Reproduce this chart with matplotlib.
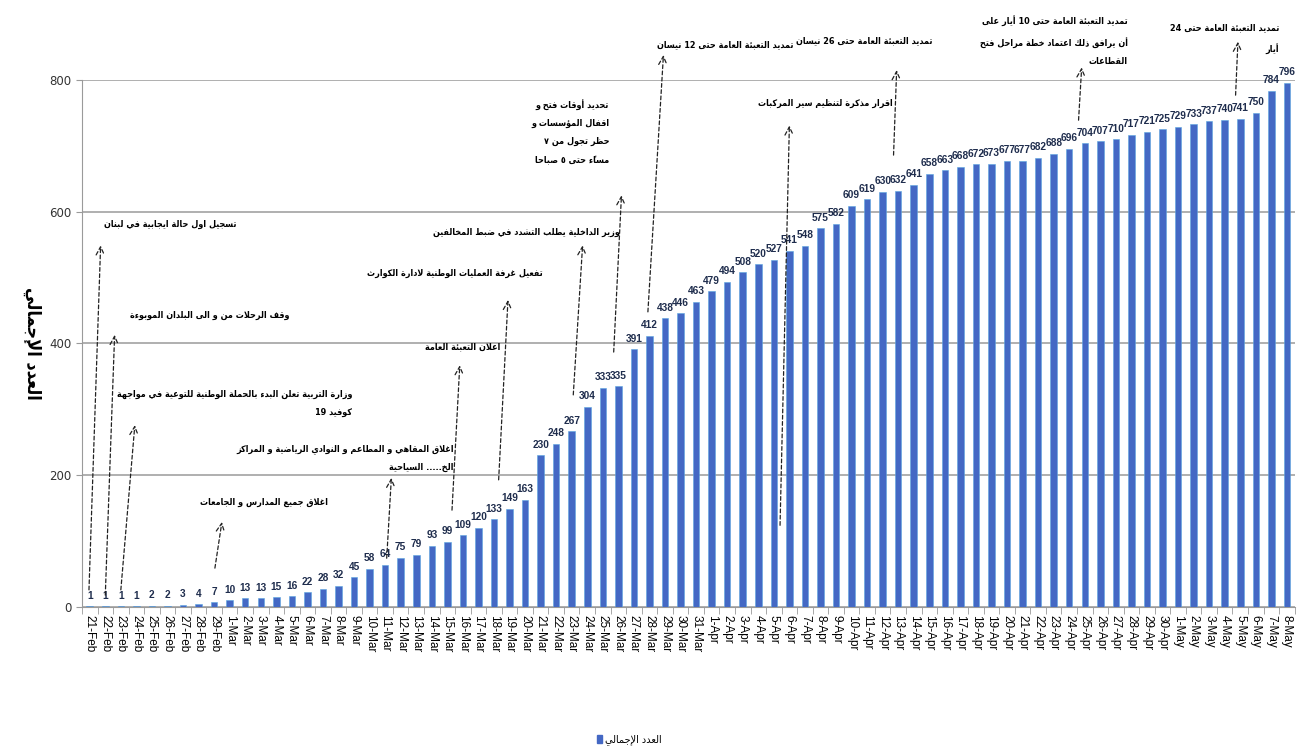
import unicodedata
import pandas as pd
import matplotlib
matplotlib.use("Agg")
import matplotlib.pyplot as plt
from matplotlib.patches import Patch

# Data
dates = [f"{d.day}-{d.strftime('%b')}" for d in pd.date_range("2020-02-21", "2020-05-08")]
totals = [1, 1, 1, 1, 2, 2, 3, 4, 7,
          10, 13, 13, 15, 16, 22, 28, 32, 45, 58, 64, 75, 79, 93, 99, 109, 120, 133, 149, 163,
          230, 248, 267, 304, 333, 335, 391, 412, 438, 446, 463,
          479, 494, 508, 520, 527, 541, 548, 575, 582, 609, 619, 630, 632, 641, 658, 663, 668,
          672, 673, 677, 677, 682, 688, 696, 704, 707, 710, 717, 721, 725,
          729, 733, 737, 740, 741, 750, 784, 796]
series_name = "العدد الإجمالي"

events = [
    "تسجيل اول حالة ايجابية في لبنان",
    "وقف الرحلات من و الى البلدان الموبوءة",
    "وزارة التربية تعلن البدء بالحملة الوطنية للتوعية في مواجهة\nكوفيد 19",
    "اغلاق جميع المدارس و الجامعات",
    "اغلاق المقاهي و المطاعم و النوادي الرياضية و المراكز\nالخ..... السياحية",
    "اعلان التعبئة العامة",
    "تفعيل غرفة العمليات الوطنية لادارة الكوارث",
    "وزير الداخلية يطلب التشدد في ضبط المخالفين",
    "تحديد أوقات فتح و\nاقفال المؤسسات و\nحظر تجول من ٧\nمساءً حتى ٥ صباحا",
    "تمديد التعبئة العامة حتى 12 نيسان",
    "اقرار مذكرة لتنظيم سير المركبات",
    "تمديد التعبئة العامة حتى 26 نيسان",
    "تمديد التعبئة العامة حتى 10 أيار على\nأن يرافق ذلك اعتماد خطة مراحل فتح\nالقطاعات",
    "تمديد التعبئة العامة حتى 24\nأيار",
]

# layout of the callouts: text (x, y), arrow tail (x, y), arrow head (x, y) in data units
callouts = [
    ((5.2, 580), (-0.05, 26), (0.7, 549)),
    ((7.7, 443), (1.0, 18), (1.6, 413)),
    ((9.3, 309), (2.0, 26), (2.9, 276)),
    ((11.2, 158), (8.05, 59), (8.5, 129)),
    ((16.4, 226), (19.1, 74), (19.4, 196)),
    ((24.0, 395), (23.3, 147), (23.8, 367)),
    ((23.5, 507), (26.3, 193), (26.9, 466)),
    ((28.1, 569), (31.1, 322), (31.7, 549)),
    ((30.9, 721), (33.7, 387), (34.2, 625)),
    ((40.9, 853), (35.9, 448), (36.9, 838)),
    ((47.3, 765), (44.4, 124), (45.0, 731)),
    ((49.8, 860), (51.7, 686), (51.9, 815)),
    ((62.0, 860), (63.6, 739), (63.8, 819)),
    ((73.0, 863), (73.7, 777), (73.85, 858)),
]

# --- minimal Arabic shaping + right-to-left ordering (matplotlib has none)
MARKS = {chr(c) for c in range(0x064B, 0x0660)} | {"\u0670"}
DIGITS = set("0123456789٠١٢٣٤٥٦٧٨٩")


def pres_form(ch, form):
    try:
        return unicodedata.lookup(f"{unicodedata.name(ch)} {form} FORM")
    except (KeyError, ValueError):
        return None


def joining(ch):
    if not ("\u0621" <= ch <= "\u064A") or ch in MARKS:
        return None
    if pres_form(ch, "INITIAL"):
        return "D"
    if pres_form(ch, "FINAL"):
        return "R"
    return None


def shape_line(s):
    chars = list(s)
    n = len(chars)
    clusters = []
    i = 0
    while i < n:
        ch = chars[i]
        if ch in MARKS and clusters:
            clusters[-1] += ch
            i += 1
            continue
        jt = joining(ch)
        if jt is None:
            clusters.append(ch)
            i += 1
            continue
        p = i - 1
        while p >= 0 and chars[p] in MARKS:
            p -= 1
        links_prev = p >= 0 and joining(chars[p]) == "D"
        j = i + 1
        while j < n and chars[j] in MARKS:
            j += 1
        nxt = chars[j] if j < n else None
        if ch == "ل" and nxt is not None and nxt in "اأإآ":
            rest = unicodedata.name(nxt)[len("ARABIC LETTER "):]
            kind = "FINAL" if links_prev else "ISOLATED"
            clusters.append(unicodedata.lookup(f"ARABIC LIGATURE LAM WITH {rest} {kind} FORM"))
            i = j + 1
            continue
        links_next = jt == "D" and nxt is not None and joining(nxt) is not None
        if links_prev and links_next:
            form = "MEDIAL"
        elif links_prev:
            form = "FINAL"
        elif links_next:
            form = "INITIAL"
        else:
            form = "ISOLATED"
        clusters.append(pres_form(ch, form) or ch)
        i += 1
    # visual order: reverse everything except digit runs
    runs = []
    for c in clusters:
        is_num = c[0] in DIGITS
        if runs and runs[-1][0] == is_num and is_num:
            runs[-1][1].append(c)
        else:
            runs.append((is_num, [c]))
    out = []
    for is_num, cs in reversed(runs):
        out.extend(cs if is_num else reversed(cs))
    return "".join(out)


def ar(s):
    return "\n".join(shape_line(line) for line in s.split("\n"))


# --- figure
fig = plt.figure(figsize=(12.97, 7.49), dpi=100)
ax = fig.add_axes([0.0632, 0.1896, 0.935, 0.7036])

x = list(range(len(totals)))
bars = ax.bar(x, totals, width=0.42, color="#4468C4", edgecolor="#5aa6e0", linewidth=0.4,
              zorder=3, label=ar(series_name))
ax.bar_label(bars, labels=[str(v) for v in totals], padding=4, fontsize=7.3,
             fontweight="bold", color="#1f2d4d",
             family=["Liberation Sans Narrow", "Liberation Sans"], fontstretch="condensed")

ax.set_xlim(-0.5, len(totals) - 0.5)
ax.set_ylim(0, 800)
ax.set_yticks([0, 200, 400, 600, 800])
ax.yaxis.grid(True, color="#9a9a9a", linewidth=1.1, zorder=0)
ax.set_axisbelow(True)

ax.set_xticks(x)
ax.set_xticklabels(dates, rotation=270, fontsize=8.5, family="Liberation Sans")
ax.set_xticks([i - 0.5 for i in range(len(totals) + 1)], minor=True)
ax.tick_params(axis="x", which="major", length=0, pad=6)
ax.tick_params(axis="x", which="minor", length=5, color="#9a9a9a")
ax.tick_params(axis="y", length=4, color="#9a9a9a", labelsize=8.5, labelcolor="#333333")

for side in ("top", "right"):
    ax.spines[side].set_visible(False)
for side in ("left", "bottom"):
    ax.spines[side].set_color("#9a9a9a")

ax.set_ylabel(ar(series_name), rotation=270, fontsize=13, fontweight="bold",
              family="DejaVu Sans", fontstretch="condensed")
ax.yaxis.set_label_coords(-0.049, 0.5)

for text, (pos, tail, head) in zip(events, callouts):
    ax.annotate("", xy=head, xytext=tail, annotation_clip=False,
                arrowprops=dict(arrowstyle="->,head_length=0.6,head_width=0.3",
                                linestyle=(0, (3, 2)), color="#222222", lw=0.9,
                                shrinkA=0, shrinkB=0))
    ax.text(pos[0], pos[1], ar(text), ha="center", va="center", fontsize=6.5,
            fontweight="bold", family="DejaVu Sans", fontstretch="condensed",
            multialignment="right", linespacing=2.3, clip_on=False)

fig.legend(handles=[Patch(color="#4468C4", label=ar(series_name))], loc="center",
           bbox_to_anchor=(0.485, 0.012), frameon=False, fontsize=7,
           handlelength=0.5, handleheight=0.8, handletextpad=0.3)

fig.savefig("out.png", dpi=100)
